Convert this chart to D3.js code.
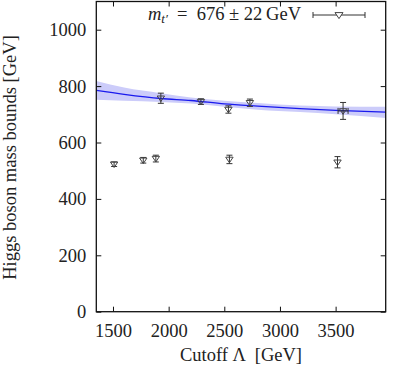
<!DOCTYPE html>
<html>
<head>
<meta charset="utf-8">
<script src="https://cdn.jsdelivr.net/npm/d3@7"></script>
<style>
  html, body { margin: 0; padding: 0; background: #fff; }
  svg text { font-family: "Liberation Serif", "DejaVu Serif", serif; fill: #222; }
</style>
</head>
<body>
<div id="chart"></div>
<script>
// Higgs mass bounds vs cutoff.

// upper bounds (fitted)
const upperX   = [1930, 2290, 2537, 2730, 3567];
const upperY   = [757, 745, 717, 741, 712];
const upperErr = [18, 10, 13, 13, 30];
const upperXErr = [0, 0, 0, 0, 45];

// lower bounds
const lowerX   = [1510, 1772, 1885, 2546, 3517];
const lowerY   = [523, 537, 543, 540, 530];
const lowerErr = [8, 10, 12, 15, 20];

// fit curve and its uncertainty band
const fitX     = [1350, 1600, 1930, 2200, 2500, 2800, 3180, 3500, 3950];
const fitY     = [785, 771, 756, 749, 737, 729, 720, 714, 708];
const fitUpper = [818, 795, 775, 760, 748, 740, 731, 728, 727];
const fitLower = [752, 748, 744, 738, 727, 716, 708, 700, 687];

const xTicks = [1500, 2000, 2500, 3000, 3500];
const yTicks = [0, 200, 400, 600, 800, 1000];

const W = 399, H = 368;
const m = { top: 1.5, right: 13.3, bottom: 56.3, left: 96.3 };
const iW = W - m.left - m.right, iH = H - m.top - m.bottom;
const FS = 18.5;

const svg = d3.select('#chart').append('svg').attr('width', W).attr('height', H).attr('xmlns', 'http://www.w3.org/2000/svg');
const g = svg.append('g').attr('transform', `translate(${m.left},${m.top})`);

const x = d3.scaleLinear().domain([1350, 3950]).range([0, iW]);
const y = d3.scaleLinear().domain([0, 1100]).range([iH, 0]);

const fit = fitX.map((v, i) => ({ x: v, y: fitY[i], lo: fitLower[i], hi: fitUpper[i] }));

g.append('defs').append('clipPath').attr('id', 'clip')
  .append('rect').attr('width', iW).attr('height', iH);

// ── Band + fit line ──
const area = d3.area().x(d => x(d.x)).y0(d => y(d.lo)).y1(d => y(d.hi)).curve(d3.curveMonotoneX);
g.append('path').datum(fit).attr('clip-path', 'url(#clip)')
  .attr('fill', '#ccccfa').attr('d', area);
const line = d3.line().x(d => x(d.x)).y(d => y(d.y)).curve(d3.curveMonotoneX);
g.append('path').datum(fit).attr('clip-path', 'url(#clip)')
  .attr('fill', 'none').attr('stroke', '#1a1aee').attr('stroke-width', 1.3).attr('d', line);

// ── Axes (ticks inward, mirrored) ──
const tickLen = 5;
const axStyle = sel => { sel.select('.domain').remove(); sel.selectAll('line').attr('stroke', '#111').attr('stroke-width', 1); };

g.append('g').attr('transform', `translate(0,${iH})`)
  .call(d3.axisBottom(x).tickValues(xTicks).tickSize(-tickLen).tickPadding(12).tickFormat(d3.format('d')))
  .call(axStyle)
  .selectAll('text').attr('font-size', FS).attr('fill', '#222').attr('font-family', 'Liberation Serif');
g.append('g')
  .call(d3.axisTop(x).tickValues(xTicks).tickSize(-tickLen).tickFormat(''))
  .call(axStyle);
g.append('g')
  .call(d3.axisLeft(y).tickValues(yTicks).tickSize(-tickLen).tickPadding(10).tickFormat(d3.format('d')))
  .call(axStyle)
  .selectAll('text').attr('font-size', FS).attr('fill', '#222').attr('font-family', 'Liberation Serif');
g.append('g').attr('transform', `translate(${iW},0)`)
  .call(d3.axisRight(y).tickValues(yTicks).tickSize(-tickLen).tickFormat(''))
  .call(axStyle);

// frame
g.append('rect').attr('width', iW).attr('height', iH)
  .attr('fill', 'none').attr('stroke', '#111').attr('stroke-width', 1.3);

// ── Error bars + markers ──
const cap = 3;
const tri = (cx, cy, s) => `M${cx - s},${cy - s * 0.6}L${cx + s},${cy - s * 0.6}L${cx},${cy + s * 0.9}Z`;

function drawPoints(xs, ys, es, xes) {
  const pts = xs.map((v, i) => ({ x: v, y: ys[i], e: es[i], xe: xes ? xes[i] : 0 }));
  const pg = g.append('g');
  pts.forEach(d => {
    const cx = x(d.x), cy = y(d.y), y1 = y(d.y + d.e), y2 = y(d.y - d.e);
    const p = pg.append('g').attr('stroke', '#333').attr('stroke-width', 1).attr('fill', 'none');
    p.append('line').attr('x1', cx).attr('x2', cx).attr('y1', y1).attr('y2', y2);
    p.append('line').attr('x1', cx - cap).attr('x2', cx + cap).attr('y1', y1).attr('y2', y1);
    p.append('line').attr('x1', cx - cap).attr('x2', cx + cap).attr('y1', y2).attr('y2', y2);
    if (d.xe) {
      const x1 = x(d.x - d.xe), x2 = x(d.x + d.xe);
      p.append('line').attr('x1', x1).attr('x2', x2).attr('y1', cy).attr('y2', cy);
      p.append('line').attr('x1', x1).attr('x2', x1).attr('y1', cy - cap).attr('y2', cy + cap);
      p.append('line').attr('x1', x2).attr('x2', x2).attr('y1', cy - cap).attr('y2', cy + cap);
    }
    p.append('path').attr('d', tri(cx, cy, 3.7)).attr('stroke', '#444').attr('stroke-width', 1);
  });
}
drawPoints(upperX, upperY, upperErr, upperXErr);
drawPoints(lowerX, lowerY, lowerErr);

// ── Legend ──
const lg = svg.append('g');
const lt = lg.append('text').attr('x', 301).attr('y', 20).attr('text-anchor', 'end').attr('font-size', FS)
  .style('white-space', 'pre');
lt.append('tspan').attr('font-style', 'italic').text('m');
lt.append('tspan').attr('font-style', 'italic').attr('font-size', 13).attr('dy', 3).text('t′');
lt.append('tspan').attr('dy', -3).text('\u2002=\u2002676\u2005±\u200522\u2009GeV');
const ly = 15, lx1 = 313, lx2 = 365, lcx = (lx1 + lx2) / 2;
const ls = lg.append('g').attr('stroke', '#333').attr('stroke-width', 1).attr('fill', 'none');
ls.append('line').attr('x1', lx1).attr('x2', lx2).attr('y1', ly).attr('y2', ly);
ls.append('line').attr('x1', lx1).attr('x2', lx1).attr('y1', ly - cap).attr('y2', ly + cap);
ls.append('line').attr('x1', lx2).attr('x2', lx2).attr('y1', ly - cap).attr('y2', ly + cap);
ls.append('path').attr('d', tri(lcx, ly, 4)).attr('fill', '#fff').attr('stroke', '#444');

// ── Axis titles ──
svg.append('text').attr('x', m.left + iW / 2).attr('y', 361).attr('text-anchor', 'middle')
  .attr('font-size', FS).text('Cutoff Λ  [GeV]').style('white-space', 'pre');
svg.append('text').attr('transform', `translate(16,${m.top + 156}) rotate(-90)`).attr('text-anchor', 'middle')
  .attr('font-size', FS).text('Higgs boson mass bounds [GeV]');
</script>
</body>
</html>
